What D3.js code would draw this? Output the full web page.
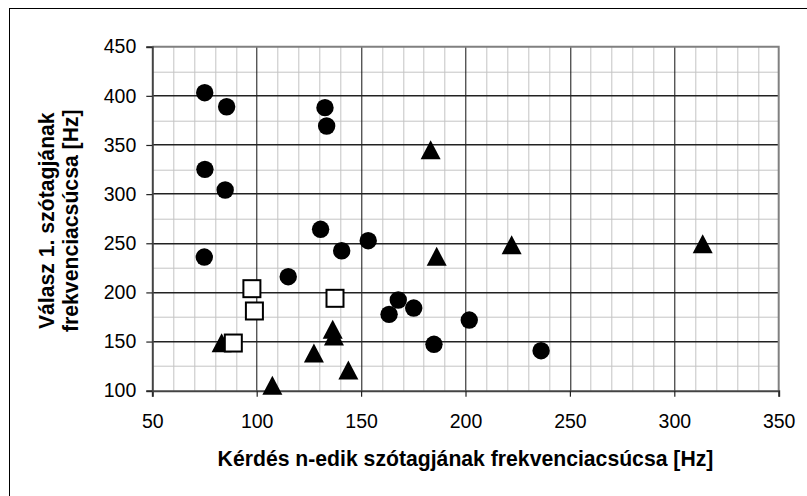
<!DOCTYPE html>
<html>
<head>
<meta charset="utf-8">
<script src="https://cdn.jsdelivr.net/npm/d3@7"></script>
<style>
  body { margin: 0; background: #fff; }
  text { font-family: "Liberation Sans", Arial, sans-serif; }
</style>
</head>
<body>
<div id="chart"></div>
<script>
// series
const circleX = [75.1, 85.6, 132.7, 133.5, 75.2, 84.9, 130.6, 153.4, 140.7, 74.9, 115.1, 167.8, 175.2, 163.4, 201.8, 184.9, 236.2];
const circleY = [403.2, 388.9, 388.0, 369.3, 325.2, 304.2, 264.2, 252.6, 242.4, 236.0, 216.0, 192.3, 184.1, 177.7, 171.9, 147.2, 140.7];
const triangleX = [183.3, 222.1, 313.6, 186.2, 136.4, 137.0, 127.4, 143.9, 107.5, 83.2];
const triangleY = [345.2, 248.5, 249.6, 236.7, 162.5, 155.7, 138.4, 121.1, 105.5, 148.8];
const squareX = [97.7, 98.9, 88.8, 137.5];
const squareY = [203.8, 181.1, 148.5, 194.0];

const xTicks = [50, 100, 150, 200, 250, 300, 350];
const yTicks = [100, 150, 200, 250, 300, 350, 400, 450];
const xTitle = 'Kérdés n-edik szótagjának frekvenciacsúcsa [Hz]';
const yTitle = ['Válasz 1. szótagjának', 'frekvenciacsúcsa [Hz]'];

const width = 807, height = 496;
const margin = { top: 46.7, right: 28.3, bottom: 105.3, left: 152.3 };
const innerW = width - margin.left - margin.right;
const innerH = height - margin.top - margin.bottom;

const svg = d3.select('#chart').append('svg')
    .attr('width', width)
    .attr('height', height);

// outer chart frame (only left/top visible in the crop)
svg.append('rect')
    .attr('x', 9.5).attr('y', 8.5)
    .attr('width', 900).attr('height', 700)
    .attr('fill', 'none')
    .attr('stroke', '#000')
    .attr('stroke-width', 1);

const x = d3.scaleLinear().domain([50, 350]).range([0, innerW]);
const y = d3.scaleLinear().domain([100, 450]).range([innerH, 0]);

const g = svg.append('g')
    .attr('transform', `translate(${margin.left},${margin.top})`);

// minor grid
const xMinor = d3.range(50, 351, 10).filter(v => v % 50 !== 0);
const yMinor = d3.range(100, 451, 25).filter(v => v % 50 !== 0);
g.append('g').selectAll('line').data(xMinor).join('line')
    .attr('x1', d => Math.round(x(d)) + 0.5).attr('x2', d => Math.round(x(d)) + 0.5)
    .attr('y1', 0).attr('y2', innerH)
    .attr('stroke', '#c4c4c4').attr('stroke-width', 1);
g.append('g').selectAll('line').data(yMinor).join('line')
    .attr('y1', d => Math.round(y(d)) + 0.5).attr('y2', d => Math.round(y(d)) + 0.5)
    .attr('x1', 0).attr('x2', innerW)
    .attr('stroke', '#c4c4c4').attr('stroke-width', 1);

// major grid
g.append('g').selectAll('line').data(xTicks.slice(1, -1)).join('line')
    .attr('x1', d => Math.round(x(d)) + 0.5).attr('x2', d => Math.round(x(d)) + 0.5)
    .attr('y1', 0).attr('y2', innerH)
    .attr('stroke', '#111').attr('stroke-width', 1);
g.append('g').selectAll('line').data(yTicks.slice(1, -1)).join('line')
    .attr('y1', d => Math.round(y(d))).attr('y2', d => Math.round(y(d)))
    .attr('x1', 0).attr('x2', innerW)
    .attr('stroke', '#222').attr('stroke-width', 1.5);

// plot border top/right
g.append('path')
    .attr('d', `M0,0H${innerW}V${innerH}`)
    .attr('fill', 'none')
    .attr('stroke', '#808080')
    .attr('stroke-width', 2);

// axes
const xAxis = g.append('g')
    .attr('transform', `translate(0,${innerH})`)
    .call(d3.axisBottom(x).tickValues(xTicks).tickSize(6).tickPadding(17));
const yAxis = g.append('g')
    .call(d3.axisLeft(y).tickValues(yTicks).tickSize(6).tickPadding(10));

[xAxis, yAxis].forEach(a => {
    a.select('.domain').attr('stroke', '#444').attr('stroke-width', 2);
    a.selectAll('.tick line').attr('stroke', '#222').attr('stroke-width', 1.2);
    a.selectAll('.tick text')
        .attr('font-family', '"Liberation Sans", Arial, sans-serif')
        .attr('font-size', 19.5)
        .attr('fill', '#000');
});

// markers
const tri = 'M0,-9.5L10,9.5L-10,9.5Z';
g.append('g').selectAll('path').data(d3.range(triangleX.length)).join('path')
    .attr('d', tri)
    .attr('transform', i => `translate(${x(triangleX[i])},${y(triangleY[i])})`)
    .attr('fill', '#000');

g.append('g').selectAll('circle').data(d3.range(circleX.length)).join('circle')
    .attr('cx', i => x(circleX[i]))
    .attr('cy', i => y(circleY[i]))
    .attr('r', 8.7)
    .attr('fill', '#000');

g.append('g').selectAll('rect').data(d3.range(squareX.length)).join('rect')
    .attr('x', i => x(squareX[i]) - 8.5)
    .attr('y', i => y(squareY[i]) - 8.5)
    .attr('width', 17).attr('height', 17)
    .attr('fill', '#fff')
    .attr('stroke', '#000')
    .attr('stroke-width', 2);

// axis titles
svg.append('text')
    .attr('x', margin.left + innerW / 2)
    .attr('y', 466)
    .attr('text-anchor', 'middle')
    .attr('font-weight', 'bold')
    .attr('font-size', 21.2)
    .text(xTitle);

const yt = svg.append('text')
    .attr('transform', `translate(54,${margin.top + innerH / 2 + 2}) rotate(-90)`)
    .attr('text-anchor', 'middle')
    .attr('font-weight', 'bold')
    .attr('font-size', 21.2);
yt.selectAll('tspan').data(yTitle).join('tspan')
    .attr('x', 0)
    .attr('dy', (d, i) => i === 0 ? 0 : 23.5)
    .text(d => d);
</script>
</body>
</html>
